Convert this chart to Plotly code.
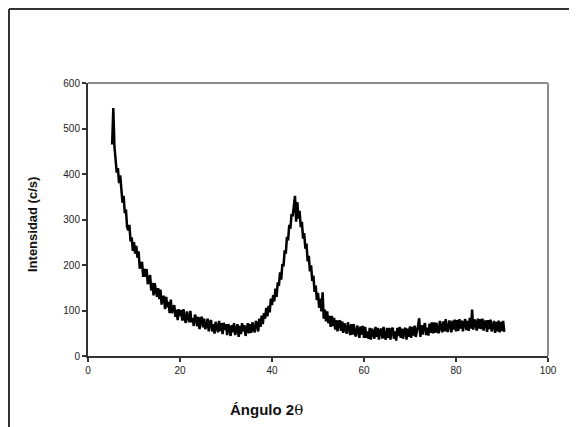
import numpy as np
import plotly.graph_objects as go

# Scan grid (2-theta): start and step of the diffractogram
ANGLE_START = 5.25
ANGLE_STEP = 0.25

# Intensity (c/s), 20 values per row (5 degrees each)
intensity = [
    465, 545, 460, 435, 403, 413, 380, 397, 374, 337, 352, 314, 322, 283, 276, 288, 252, 261, 231, 250,
    225, 242, 216, 230, 192, 202, 207, 174, 192, 174, 191, 158, 164, 178, 144, 161, 133, 160, 147, 130,
    149, 125, 146, 113, 128, 132, 103, 130, 107, 119, 94, 124, 94, 106, 112, 86, 102, 79, 103, 88,
    101, 78, 103, 82, 73, 98, 89, 74, 99, 74, 83, 66, 91, 84, 65, 86, 59, 82, 86, 63,
    82, 59, 67, 82, 54, 75, 79, 54, 70, 49, 75, 66, 52, 77, 55, 72, 48, 73, 57, 70,
    46, 70, 62, 44, 68, 52, 72, 46, 60, 70, 42, 66, 48, 72, 54, 68, 44, 64, 72, 50,
    70, 51, 74, 59, 52, 77, 70, 54, 82, 64, 89, 70, 94, 82, 106, 87, 110, 96, 126, 112,
    134, 120, 148, 130, 162, 154, 184, 168, 202, 197, 232, 225, 262, 254, 288, 280, 312, 307, 339, 352,
    295, 338, 302, 319, 283, 295, 258, 270, 236, 247, 208, 220, 186, 199, 165, 177, 141, 155, 123, 139,
    106, 126, 98, 140, 82, 102, 76, 98, 72, 88, 64, 88, 66, 84, 58, 79, 54, 75, 78, 55,
    76, 51, 72, 56, 49, 74, 61, 46, 70, 47, 70, 48, 43, 67, 58, 40, 65, 47, 66, 40,
    64, 40, 54, 38, 62, 36, 60, 52, 38, 64, 42, 62, 36, 56, 60, 38, 64, 42, 36, 62,
    40, 62, 36, 58, 62, 38, 54, 34, 62, 44, 64, 40, 60, 38, 56, 62, 36, 60, 42, 65,
    40, 64, 45, 67, 42, 60, 67, 83, 42, 68, 47, 65, 72, 46, 62, 45, 71, 51, 74, 50,
    74, 51, 73, 56, 50, 77, 67, 52, 76, 54, 81, 57, 53, 78, 72, 52, 78, 58, 80, 54,
    79, 55, 81, 60, 78, 54, 72, 81, 57, 77, 55, 84, 60, 102, 58, 80, 74, 56, 82, 60,
    81, 59, 82, 56, 74, 78, 53, 79, 59, 80, 54, 70, 77, 51, 75, 54, 78, 52, 75, 55, 77, 53,
]

angle = ANGLE_START + ANGLE_STEP * np.arange(len(intensity))

x_ticks = [0, 20, 40, 60, 80, 100]
y_ticks = [0, 100, 200, 300, 400, 500, 600]

# page offset of the figure inside the browser window
OFF = 8
W, H = 577, 427
L, R, T, B = 80, 37, 75, 79
pw, ph = W - L - R, H - T - B

def px(xp):
    return (xp - OFF - L) / pw

def py(yp):
    return (H - B - (yp - OFF)) / ph

fig = go.Figure()
fig.add_trace(go.Scatter(
    x=angle, y=intensity, mode="lines",
    line=dict(color="#000000", width=2.5),
    showlegend=False, hoverinfo="skip",
))

axis_font = dict(family="Liberation Sans, Arial, sans-serif", size=10, color="#222222")

fig.update_layout(
    width=W, height=H,
    margin=dict(l=L, r=R, t=T, b=B, pad=0),
    paper_bgcolor="white", plot_bgcolor="white",
    xaxis=dict(
        range=[0, 100], tickvals=x_ticks, ticktext=[str(v) for v in x_ticks],
        showgrid=False, zeroline=False, showline=True, linecolor="#333333", linewidth=2,
        ticks="outside", ticklen=4, tickwidth=1.5, tickcolor="#333333",
        tickfont=axis_font,
    ),
    yaxis=dict(
        range=[0, 600], tickvals=y_ticks, ticktext=[str(v) for v in y_ticks],
        showgrid=False, zeroline=False, showline=True, linecolor="#333333", linewidth=2,
        ticks="outside", ticklen=4, tickwidth=1.5, tickcolor="#333333",
        tickfont=axis_font,
    ),
    shapes=[
        dict(type="line", xref="paper", yref="paper", x0=0, y0=1, x1=1, y1=1,
             line=dict(color="#8c8c8c", width=2)),
        dict(type="line", xref="paper", yref="paper", x0=1, y0=0, x1=1, y1=1,
             line=dict(color="#8c8c8c", width=2)),
        dict(type="line", xref="paper", yref="paper", x0=px(9), y0=py(9), x1=px(620), y1=py(9),
             line=dict(color="#333333", width=2)),
        dict(type="line", xref="paper", yref="paper", x0=px(9), y0=py(9), x1=px(9), y1=py(470),
             line=dict(color="#333333", width=2)),
    ],
    annotations=[
        dict(text="<b>Intensidad (c/s)</b>", xref="paper", yref="paper",
             x=px(33), y=py(225), textangle=-90, showarrow=False,
             font=dict(family="Liberation Sans, Arial, sans-serif", size=13, color="#111111"),
             xanchor="center", yanchor="middle"),
        dict(text="<b>Ángulo 2</b><span style='font-family:DejaVu Serif'>θ</span>",
             xref="paper", yref="paper",
             x=px(266), y=py(410), showarrow=False,
             font=dict(family="Liberation Sans, Arial, sans-serif", size=15, color="#111111"),
             xanchor="center", yanchor="middle"),
    ],
)

fig.write_html("out.html")
